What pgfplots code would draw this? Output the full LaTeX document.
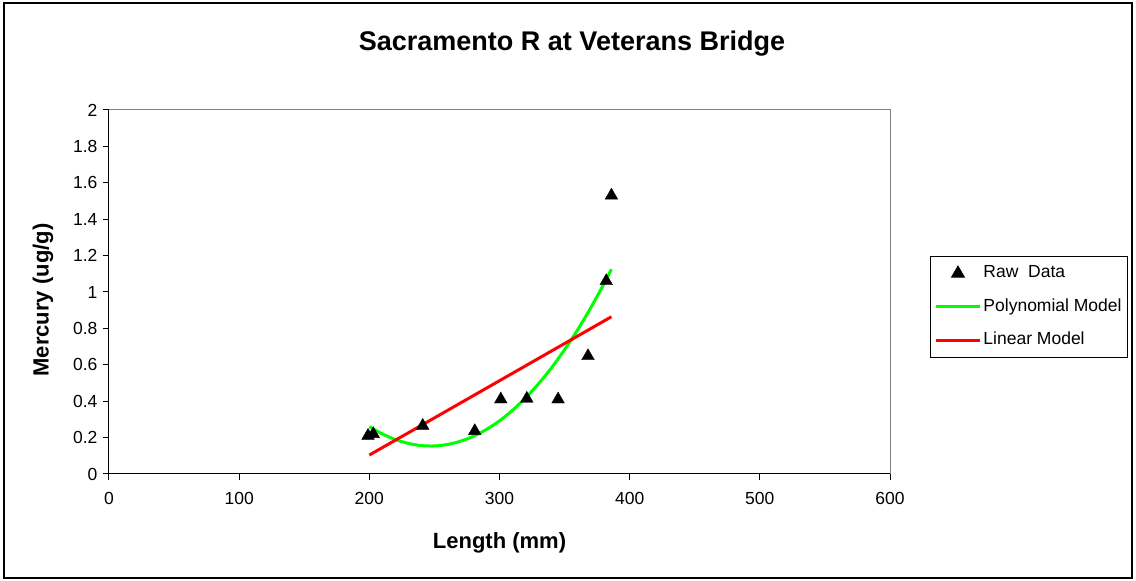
\documentclass[border=0pt]{standalone}
\usepackage{pgfplots}
\pgfplotsset{compat=1.18}
\usepackage{fontspec}
\setmainfont{Liberation Sans}
\definecolor{polygreen}{RGB}{0,255,0}
\definecolor{linred}{RGB}{255,0,0}
\pgfplotsset{
  linelegend/.style={legend image code/.code={\draw[##1] (0bp,0bp) -- (44bp,0bp);}},
  marklegend/.style={legend image code/.code={\draw[##1] plot coordinates {(22bp,0bp)};}},
}
\begin{document}
\begin{tikzpicture}[x=1bp,y=1bp]
\useasboundingbox (-109,-107) rectangle (1027,474);
\draw[line width=1.5bp,black] (-105,-104) rectangle (1023,471);
\begin{axis}[
  at={(0,0)}, anchor=south west,
  scale only axis, width=781bp, height=364bp,
  xmin=0, xmax=600, ymin=0, ymax=2,
  xtick={0,100,...,600}, ytick={0,0.2,...,2.0},
  yticklabels={0,0.2,0.4,0.6,0.8,1,1.2,1.4,1.6,1.8,2},
  axis lines=left, axis line style={black, line width=1bp, -},
  tick align=outside, major tick length=6bp,
  tick style={black, line width=1bp},
  /pgf/number format/assume math mode=true,
  ticklabel style={font=\fontsize{17.5bp}{20bp}\selectfont},
  xticklabel style={yshift=-9bp},
  yticklabel style={xshift=-2bp},
  xlabel={\textbf{Length (mm)}},
  ylabel={\textbf{Mercury (ug/g)}},
  xlabel style={at={(axis description cs:0.5,-0.19)}, anchor=center, font=\fontsize{22bp}{24bp}\selectfont},
  ylabel style={at={(axis description cs:-0.0845,0.478)}, anchor=center, rotate=0, font=\fontsize{22bp}{24bp}\selectfont},
  clip=false,
  legend style={at={(axis description cs:1.0512,0.5989)}, anchor=north west,
    draw=black, line width=1bp, inner xsep=4bp, inner ysep=6bp,
    font=\fontsize{17.5bp}{20bp}\selectfont,
    nodes={inner ysep=3bp, text height=12.5bp, text depth=3.5bp},
    row sep=11.5bp},
  legend cell align=left,
]
\draw[gray, line width=1bp] (rel axis cs:0,1) -- (rel axis cs:1,1) -- (rel axis cs:1,0);
\addplot[only marks, mark=triangle*, mark size=7.3bp, black, marklegend]
  coordinates {
  (199,0.21) (203,0.22) (241,0.265) (281,0.236) (301,0.41) (321,0.414)
  (345,0.41) (368,0.648) (382,1.06) (386,1.53)};
\addlegendentry{Raw\ \ Data}
\addplot[polygreen, line width=3bp, no marks, smooth, linelegend]
  coordinates {
  (200,0.260) (210,0.220) (220,0.189) (230,0.168) (240,0.156) (250,0.154)
  (260,0.162) (270,0.180) (280,0.207) (290,0.245) (300,0.292) (310,0.350)
  (320,0.418) (330,0.496) (340,0.584) (350,0.683) (360,0.792) (370,0.912)
  (380,1.042) (386,1.125)};
\addlegendentry{Polynomial Model}
\addplot[linred, line width=3bp, no marks, linelegend]
  coordinates {(200,0.104) (386,0.864)};
\addlegendentry{Linear Model}
\end{axis}
\node[font=\bfseries\fontsize{27bp}{30bp}\selectfont] at (463,430) {Sacramento R at Veterans Bridge};
\end{tikzpicture}
\end{document}
